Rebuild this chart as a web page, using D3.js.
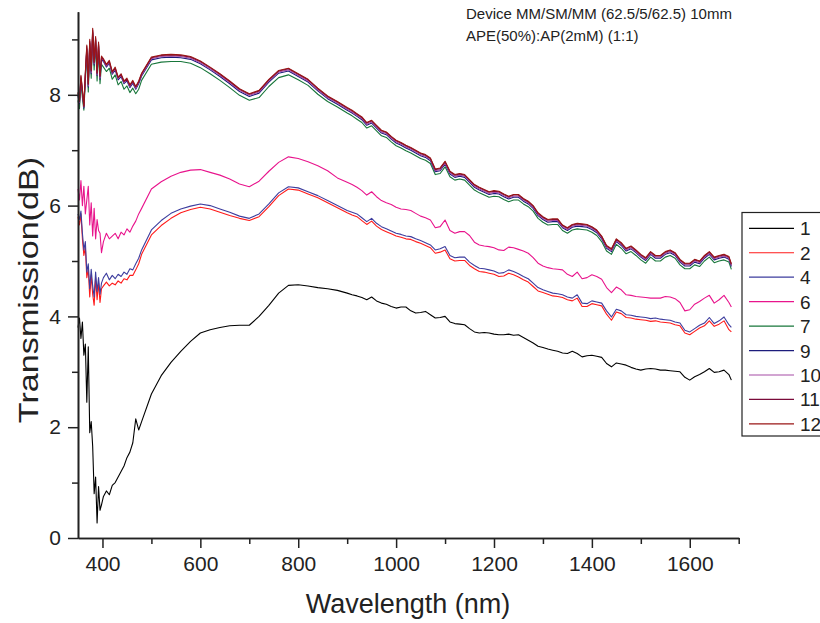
<!DOCTYPE html>
<html><head><meta charset="utf-8">
<script src="https://cdn.jsdelivr.net/npm/d3@7"></script>
<style>
body{margin:0;background:#fff}
svg{display:block}
text{font-family:Arial,"Liberation Sans",sans-serif;fill:#222}
</style>
</head><body>
<svg id="chart" width="820" height="623"></svg>
<script>
// ---------- DATA ----------
const wavelength = [350,353,356,359,362,365,368,371,374,377,380,383,386,389,392,395,398,
402,408,414,420,426,432,438,444,450,456,462,468,474,
480,500,520,540,560,580,600,620,640,660,680,700,720,740,760,780,800,820,840,860,880,900,
910,920,930,940,950,960,970,980,990,1000,
1010,1020,1030,1040,1050,1060,1070,1080,1090,1100,
1110,1120,1130,1140,1150,1160,1170,1180,1190,1200,
1210,1220,1230,1240,1250,1260,1270,1280,1290,1300,
1310,1320,1330,1340,1350,1360,1370,1380,1390,1400,
1410,1420,1430,1440,1450,1460,1470,1480,1490,1500,
1510,1520,1530,1540,1550,1560,1570,1580,1590,1600,
1610,1620,1630,1640,1650,1660,1670,1680,1685];

const series1 = [3.8,3.97,3.6,3.9,3.3,3.5,2.45,3.45,1.9,2.1,1.65,0.8,1.1,0.27,0.93,0.5,0.6,
0.75,0.85,0.78,0.95,1.0,1.1,1.2,1.3,1.45,1.55,1.72,2.15,1.95,
2.1,2.6,2.93,3.17,3.37,3.55,3.7,3.76,3.8,3.83,3.84,3.84,4.0,4.2,4.42,4.56,4.57,4.55,4.52,4.5,4.47,4.42,
4.39,4.37,4.34,4.3,4.35,4.28,4.24,4.22,4.18,4.15,
4.17,4.17,4.1,4.06,4.07,4.09,4.03,3.97,3.98,4.0,
3.9,3.87,3.86,3.85,3.78,3.72,3.7,3.71,3.7,3.68,
3.67,3.67,3.68,3.66,3.67,3.62,3.57,3.52,3.46,3.44,
3.41,3.39,3.37,3.34,3.33,3.37,3.33,3.27,3.29,3.3,
3.28,3.26,3.15,3.09,3.16,3.14,3.12,3.08,3.05,3.03,
3.05,3.06,3.05,3.03,3.03,3.02,3.01,3.0,2.9,2.85,
2.91,2.95,3.0,3.06,2.99,3.0,3.03,2.95,2.85];

const series2 = [5.8,5.65,5.85,5.4,5.1,5.25,4.7,4.85,4.35,4.75,4.4,4.2,4.7,4.3,4.6,4.25,4.5,
4.55,4.62,4.55,4.6,4.57,4.64,4.6,4.68,4.66,4.74,4.74,4.84,4.95,
5.12,5.47,5.64,5.77,5.87,5.93,5.97,5.94,5.88,5.82,5.77,5.73,5.8,5.98,6.18,6.3,6.28,6.21,6.14,6.05,5.96,5.87,
5.83,5.8,5.73,5.66,5.72,5.63,5.57,5.53,5.49,5.45,
5.43,5.4,5.39,5.35,5.32,5.28,5.24,5.14,5.16,5.2,
5.04,5.0,5.01,5.01,4.92,4.86,4.81,4.8,4.78,4.76,
4.72,4.73,4.78,4.75,4.71,4.66,4.62,4.54,4.46,4.43,
4.4,4.37,4.36,4.34,4.3,4.28,4.33,4.18,4.18,4.23,
4.21,4.19,4.04,3.93,4.08,4.05,3.98,3.97,3.95,3.94,
3.93,3.91,3.92,3.9,3.89,3.88,3.85,3.83,3.7,3.67,
3.73,3.79,3.83,3.92,3.82,3.86,3.92,3.76,3.72];

const series4 = [5.85,5.75,5.9,5.5,5.2,5.35,4.8,4.95,4.5,4.85,4.55,4.35,4.8,4.45,4.7,4.4,4.6,
4.7,4.78,4.66,4.74,4.68,4.76,4.72,4.8,4.76,4.86,4.84,4.95,5.05,
5.2,5.56,5.73,5.86,5.94,5.99,6.03,6.0,5.94,5.88,5.81,5.77,5.85,6.03,6.23,6.34,6.32,6.25,6.18,6.09,6.0,5.91,
5.88,5.85,5.78,5.71,5.77,5.68,5.62,5.58,5.54,5.5,
5.48,5.45,5.44,5.4,5.37,5.33,5.29,5.2,5.22,5.26,
5.1,5.06,5.07,5.07,4.98,4.92,4.87,4.86,4.84,4.82,
4.78,4.79,4.84,4.81,4.77,4.72,4.68,4.6,4.52,4.48,
4.45,4.42,4.41,4.39,4.35,4.33,4.39,4.24,4.23,4.28,
4.26,4.24,4.1,3.99,4.13,4.1,4.03,4.02,4.0,3.99,
3.98,3.96,3.97,3.95,3.94,3.93,3.9,3.88,3.75,3.72,
3.78,3.84,3.88,3.98,3.87,3.92,3.99,3.85,3.8];

const series6 = [6.3,6.1,6.45,6.0,6.35,5.85,6.1,6.35,5.65,6.05,5.45,5.95,5.4,5.75,5.55,5.5,5.15,
5.35,5.5,5.4,5.45,5.5,5.4,5.52,5.47,5.58,5.52,5.63,5.72,5.85,
5.95,6.3,6.43,6.53,6.6,6.64,6.65,6.6,6.55,6.48,6.39,6.34,6.44,6.62,6.78,6.88,6.85,6.79,6.72,6.63,6.5,6.42,
6.38,6.33,6.27,6.19,6.25,6.16,6.09,6.05,6.02,5.97,
5.94,5.93,5.91,5.86,5.81,5.78,5.74,5.6,5.62,5.74,
5.55,5.5,5.53,5.53,5.46,5.34,5.29,5.27,5.26,5.24,
5.2,5.19,5.25,5.24,5.21,5.18,5.14,5.06,4.96,4.91,
4.88,4.86,4.85,4.84,4.76,4.72,4.8,4.68,4.7,4.75,
4.72,4.67,4.52,4.43,4.53,4.48,4.39,4.38,4.36,4.35,
4.34,4.33,4.33,4.33,4.36,4.35,4.32,4.25,4.1,4.12,
4.22,4.27,4.33,4.38,4.24,4.3,4.38,4.25,4.17];

const series7 = [7.9,7.75,8.2,7.95,7.72,8.25,8.75,8.05,8.85,8.3,9.05,8.45,8.9,8.25,8.8,8.2,8.55,
8.5,8.42,8.48,8.28,8.36,8.18,8.24,8.1,8.16,8.04,8.12,8.02,8.1,
8.26,8.55,8.59,8.6,8.6,8.57,8.49,8.38,8.26,8.13,7.99,7.9,7.95,8.15,8.31,8.36,8.27,8.17,8.01,7.88,7.78,7.67,
7.62,7.56,7.5,7.4,7.44,7.35,7.26,7.23,7.15,7.08,
7.04,6.99,6.95,6.9,6.85,6.82,6.76,6.56,6.58,6.7,
6.52,6.46,6.48,6.46,6.37,6.28,6.23,6.19,6.15,6.17,
6.16,6.11,6.07,6.1,6.1,6.03,5.98,5.9,5.77,5.7,
5.65,5.66,5.66,5.55,5.5,5.56,5.58,5.57,5.56,5.52,
5.46,5.35,5.18,5.12,5.3,5.23,5.13,5.17,5.1,5.02,
4.96,5.07,5.0,5.0,5.07,5.1,5.05,4.93,4.86,4.86,
4.93,4.9,5.0,5.07,4.97,5.0,5.02,4.98,4.85];

const series9 = [7.98,7.84,8.28,8.03,7.76,8.33,8.82,8.14,8.93,8.38,9.12,8.54,8.98,8.35,8.88,8.28,8.64,
8.6,8.5,8.57,8.37,8.45,8.27,8.33,8.2,8.25,8.13,8.21,8.1,8.2,
8.34,8.63,8.67,8.68,8.67,8.64,8.56,8.45,8.33,8.2,8.06,7.97,8.03,8.23,8.39,8.43,8.33,8.23,8.07,7.93,7.83,7.72,
7.67,7.61,7.55,7.45,7.49,7.4,7.31,7.28,7.2,7.13,
7.09,7.04,7.0,6.95,6.9,6.87,6.81,6.61,6.63,6.75,
6.57,6.51,6.53,6.51,6.42,6.33,6.28,6.24,6.2,6.22,
6.21,6.16,6.12,6.15,6.15,6.08,6.03,5.95,5.82,5.75,
5.7,5.71,5.71,5.6,5.55,5.61,5.63,5.62,5.61,5.57,
5.51,5.4,5.23,5.17,5.35,5.28,5.18,5.22,5.15,5.07,
5.01,5.12,5.05,5.05,5.12,5.15,5.1,4.98,4.91,4.91,
4.98,4.95,5.05,5.12,5.02,5.05,5.07,5.03,4.9];

const series10 = [8.0,7.86,8.3,8.05,7.78,8.35,8.84,8.16,8.95,8.4,9.14,8.56,9.0,8.36,8.9,8.3,8.66,
8.62,8.52,8.58,8.39,8.47,8.29,8.35,8.22,8.27,8.15,8.23,8.12,8.22,
8.36,8.65,8.69,8.7,8.69,8.66,8.58,8.47,8.35,8.22,8.08,7.99,8.05,8.25,8.41,8.45,8.35,8.25,8.09,7.95,7.85,7.74,
7.69,7.63,7.57,7.47,7.51,7.42,7.33,7.3,7.22,7.15,
7.11,7.06,7.02,6.97,6.92,6.89,6.83,6.63,6.65,6.77,
6.59,6.53,6.55,6.53,6.44,6.35,6.3,6.26,6.22,6.24,
6.23,6.18,6.14,6.17,6.17,6.1,6.05,5.97,5.84,5.77,
5.72,5.73,5.73,5.62,5.57,5.63,5.65,5.64,5.63,5.59,
5.53,5.42,5.25,5.19,5.37,5.3,5.2,5.24,5.17,5.09,
5.03,5.14,5.07,5.07,5.14,5.17,5.12,5.0,4.93,4.93,
5.0,4.97,5.07,5.14,5.04,5.07,5.09,5.05,4.92];

const series11 = [8.03,7.88,8.33,8.08,7.79,8.38,8.87,8.19,8.97,8.43,9.17,8.58,9.02,8.39,8.92,8.33,8.68,
8.63,8.54,8.6,8.41,8.48,8.31,8.36,8.24,8.28,8.17,8.24,8.14,8.23,
8.38,8.67,8.71,8.72,8.71,8.68,8.6,8.49,8.37,8.24,8.1,8.01,8.07,8.27,8.43,8.47,8.37,8.27,8.11,7.97,7.87,7.76,
7.71,7.65,7.59,7.49,7.53,7.44,7.35,7.32,7.24,7.17,
7.13,7.08,7.04,6.99,6.94,6.91,6.85,6.65,6.67,6.79,
6.61,6.55,6.57,6.55,6.46,6.37,6.32,6.28,6.24,6.26,
6.25,6.2,6.16,6.19,6.19,6.12,6.07,5.99,5.86,5.79,
5.74,5.75,5.75,5.64,5.59,5.65,5.67,5.66,5.65,5.61,
5.55,5.44,5.27,5.21,5.39,5.32,5.22,5.26,5.19,5.11,
5.05,5.16,5.09,5.09,5.16,5.19,5.14,5.02,4.95,4.95,
5.02,4.99,5.09,5.16,5.06,5.09,5.11,5.07,4.94];

const series12 = [8.05,7.9,8.35,8.1,7.8,8.4,8.9,8.2,9.0,8.45,9.2,8.6,9.05,8.4,8.95,8.35,8.7,
8.65,8.55,8.62,8.42,8.5,8.32,8.38,8.25,8.3,8.18,8.26,8.15,8.25,
8.39,8.68,8.72,8.73,8.72,8.69,8.61,8.5,8.38,8.25,8.11,8.02,8.08,8.28,8.44,8.48,8.38,8.28,8.12,7.98,7.88,7.77,
7.72,7.66,7.6,7.5,7.54,7.45,7.36,7.33,7.25,7.18,
7.14,7.09,7.05,7.0,6.95,6.92,6.86,6.66,6.68,6.8,
6.62,6.56,6.58,6.56,6.47,6.38,6.33,6.29,6.25,6.27,
6.26,6.21,6.17,6.2,6.2,6.13,6.08,6.0,5.87,5.8,
5.75,5.76,5.76,5.65,5.6,5.66,5.68,5.67,5.66,5.62,
5.56,5.45,5.28,5.22,5.4,5.33,5.23,5.27,5.2,5.12,
5.06,5.17,5.1,5.1,5.17,5.2,5.15,5.03,4.96,4.96,
5.03,5.0,5.1,5.17,5.07,5.1,5.12,5.08,4.95];

const seriesNames = ["1","2","4","6","7","9","10","11","12"];
const xMajorTicks = [400,600,800,1000,1200,1400,1600];
const xMinorTicks = [500,700,900,1100,1300,1500,1700];
const yMajorTicks = [0,2,4,6,8];
const yMinorTicks = [1,3,5,7,9];
const xTitle = "Wavelength (nm)";
const yTitle = "Transmission(dB)";
const noteLines = ["Device MM/SM/MM (62.5/5/62.5) 10mm","APE(50%):AP(2mM) (1:1)"];

// ---------- STYLE ----------
const seriesValues = [series1,series2,series4,series6,series7,series9,series10,series11,series12];
const colors = ["#000000","#ff1a1a","#3d3d9e","#e8148c","#17763a","#1c1c7c","#a64ca6","#7a0a3a","#9a1616"];

const svg = d3.select("#chart");
const x = d3.scaleLinear().domain([350,1700]).range([78,738.7]);
const y = d3.scaleLinear().domain([0,9.5]).range([538,11.7]);

// lines
const line = d3.line().x(d=>x(d[0])).y(d=>y(d[1]));
seriesValues.forEach((vals,i)=>{
  const pts = wavelength.map((w,j)=>[w,vals[j]]).filter(p=>p[1]!=null);
  svg.append("path").datum(pts)
    .attr("fill","none").attr("stroke",colors[i])
    .attr("stroke-width",1.1).attr("stroke-linejoin","round")
    .attr("d",line);
});

// axes
const axisColor = "#222";
const fmt = d3.format("d");
const gx = svg.append("g").attr("transform","translate(0,538)");
gx.call(d3.axisBottom(x).tickValues(xMajorTicks).tickFormat(fmt).tickSize(10).tickSizeOuter(0).tickPadding(8));
const gxm = svg.append("g").attr("transform","translate(0,538)");
gxm.call(d3.axisBottom(x).tickValues(xMinorTicks).tickSize(6).tickSizeOuter(0).tickFormat(""));
const gy = svg.append("g").attr("transform","translate(78,0)");
gy.call(d3.axisLeft(y).tickValues(yMajorTicks).tickFormat(fmt).tickSize(10).tickSizeOuter(0).tickPadding(7));
const gym = svg.append("g").attr("transform","translate(78,0)");
gym.call(d3.axisLeft(y).tickValues(yMinorTicks).tickSize(6).tickSizeOuter(0).tickFormat(""));
[gx,gxm,gy,gym].forEach(g=>{
  g.selectAll("path").attr("stroke",axisColor).attr("stroke-width",1.6);
  g.selectAll("line").attr("stroke",axisColor).attr("stroke-width",1.5);
  g.selectAll("text").attr("font-size",21).attr("fill","#222")
   .style("font-family","Arial, 'Liberation Sans', sans-serif");
});

// titles
svg.append("text").attr("x",408).attr("y",613).attr("text-anchor","middle")
  .attr("font-size",27).text(xTitle);
svg.append("text").attr("transform","translate(38,290) rotate(-90) scale(1.22,1)")
  .attr("text-anchor","middle").attr("font-size",28).text(yTitle);

// note
noteLines.forEach((t,i)=>{
  svg.append("text").attr("x",466).attr("y",19+i*22).attr("font-size",15).text(t);
});

// legend
const lg = svg.append("g");
lg.append("rect").attr("x",742).attr("y",212.5).attr("width",100).attr("height",223.5)
  .attr("fill","#fff").attr("stroke","#222").attr("stroke-width",1.2);
seriesNames.forEach((n,i)=>{
  const yy = 228.3 + i*24.45;
  lg.append("line").attr("x1",749).attr("x2",794).attr("y1",yy).attr("y2",yy)
    .attr("stroke",colors[i]).attr("stroke-width",1.2);
  lg.append("text").attr("x",800).attr("y",yy+7).attr("font-size",19).text(n);
});
</script>
</body></html>
